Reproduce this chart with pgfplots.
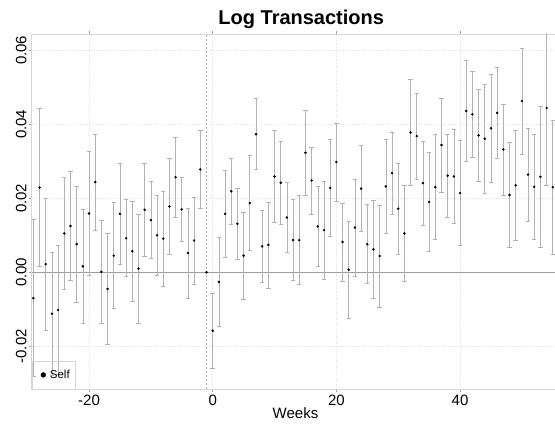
\documentclass[border=0pt]{standalone}
\usepackage{fontspec}
\setmainfont{Liberation Sans}
\usepackage{pgfplots}
\pgfplotsset{compat=1.18}
\usepackage{pgfplotstable}
\usetikzlibrary{calc}

\definecolor{barg}{gray}{0.70}
\definecolor{gridg}{gray}{0.88}
\definecolor{frameg}{gray}{0.84}
\definecolor{zerog}{gray}{0.62}

% week, estimate, half-width of the interval
\pgfplotstableread{
w v hw
-29 -0.0070 0.0212
-28 0.0229 0.0213
-27 0.0022 0.0178
-26 -0.0112 0.0166
-25 -0.0102 0.0175
-24 0.0105 0.0152
-23 0.0125 0.0147
-22 0.0076 0.0156
-21 0.0016 0.0154
-20 0.0159 0.0167
-19 0.0244 0.0130
-18 0.0001 0.0140
-17 -0.0045 0.0150
-16 0.0045 0.0143
-15 0.0158 0.0137
-14 0.0092 0.0104
-13 0.0057 0.0135
-12 0.0010 0.0148
-11 0.0169 0.0126
-10 0.0141 0.0104
-9 0.0100 0.0108
-8 0.0091 0.0129
-7 0.0178 0.0130
-6 0.0257 0.0108
-5 0.0170 0.0087
-4 0.0052 0.0122
-3 0.0086 0.0118
-2 0.0278 0.0105
0 -0.0158 0.0101
1 -0.0026 0.0120
2 0.0158 0.0118
3 0.0219 0.0090
4 0.0131 0.0097
5 0.0045 0.0117
6 0.0187 0.0128
7 0.0373 0.0096
8 0.0070 0.0097
9 0.0074 0.0116
10 0.0259 0.0125
11 0.0242 0.0112
12 0.0148 0.0094
13 0.0087 0.0109
14 0.0087 0.0120
15 0.0323 0.0115
16 0.0248 0.0090
17 0.0124 0.0108
18 0.0114 0.0133
19 0.0228 0.0131
20 0.0298 0.0106
21 0.0082 0.0105
22 0.0007 0.0130
23 0.0121 0.0131
24 0.0226 0.0116
25 0.0076 0.0107
26 0.0062 0.0132
27 0.0044 0.0138
28 0.0232 0.0127
29 0.0268 0.0110
30 0.0172 0.0123
31 0.0105 0.0130
32 0.0378 0.0144
33 0.0368 0.0117
34 0.0241 0.0114
35 0.0190 0.0133
36 0.0230 0.0142
37 0.0344 0.0127
38 0.0261 0.0112
39 0.0259 0.0127
40 0.0214 0.0142
41 0.0436 0.0137
42 0.0427 0.0116
43 0.0370 0.0124
44 0.0361 0.0147
45 0.0389 0.0146
46 0.0431 0.0122
47 0.0332 0.0123
48 0.0209 0.0142
49 0.0235 0.0148
50 0.0463 0.0143
51 0.0264 0.0126
52 0.0231 0.0143
53 0.0258 0.0190
54 0.0444 0.0208
55 0.0230 0.0182
}\selfdata

\begin{document}
\begin{tikzpicture}
\begin{axis}[
  scale only axis,
  width=523.3bp, height=355bp,
  xmin=-29.27, xmax=55.36,
  ymin=-0.03154, ymax=0.0644,
  scaled y ticks=false,
  xtick={-20,0,20,40},
  xticklabels={-20,0,20,40},
  ytick={-0.02,0,0.02,0.04,0.06},
  yticklabels={-0.02,0.00,0.02,0.04,0.06},
  axis line style={frameg, line width=0.7bp},
  tick style={zerog, line width=0.6bp},
  tick align=outside,
  major tick length=3bp,
  grid=major,
  major grid style={gridg, dotted, line width=0.6bp},
  ticklabel style={font=\fontsize{15bp}{18bp}\selectfont, inner sep=0pt},
  xticklabel shift=3bp,
  yticklabel shift=2bp,
  yticklabel style={rotate=90},
  legend style={at={(0,0)}, anchor=south west, draw=frameg, fill=none,
    font=\fontsize{11.5bp}{13bp}\selectfont,
    inner xsep=3bp, inner ysep=7bp, column sep=2bp},
  legend cell align=left,
  legend image code/.code={
    \path[draw=none, fill=none] (0bp,0bp) -- (11bp,0bp);
    \fill[black] (8.4bp,0bp) circle (2.4bp);},
]
\coordinate (sw) at (rel axis cs:0,0);
\coordinate (ne) at (rel axis cs:1,1);

% reference lines
\draw[zerog, line width=0.6bp] (-29.27,0) -- (55.36,0);
\draw[barg, line width=0.6bp, dash pattern=on 2bp off 2bp] (-1,-0.03154) -- (-1,0.0644);

\addplot[only marks, mark=*, mark size=1.05bp, black,
  error bars/.cd, y dir=both, y explicit,
  error bar style={barg, line width=0.6bp},
  error mark options={barg, rotate=90, mark size=2.2bp, line width=0.6bp}]
  table[x=w, y=v, y error=hw] {\selfdata};
\addlegendentry{Self}

% reference week, fixed at zero
\addplot[only marks, mark=*, mark size=1.05bp, black, forget plot]
  coordinates {(-1,0)};
\end{axis}

\node[anchor=base, font=\bfseries\fontsize{20bp}{24bp}\selectfont]
  at ($(sw|-ne)+(269.5bp,9bp)$) {Log Transactions};
\node[anchor=base, font=\fontsize{15bp}{18bp}\selectfont]
  at ($(sw)+(263.8bp,-29bp)$) {Weeks};

\pgfresetboundingbox
\useasboundingbox ($(sw)+(-31.7bp,-43bp)$) rectangle ($(ne)+(0bp,34bp)$);
\end{tikzpicture}
\end{document}
